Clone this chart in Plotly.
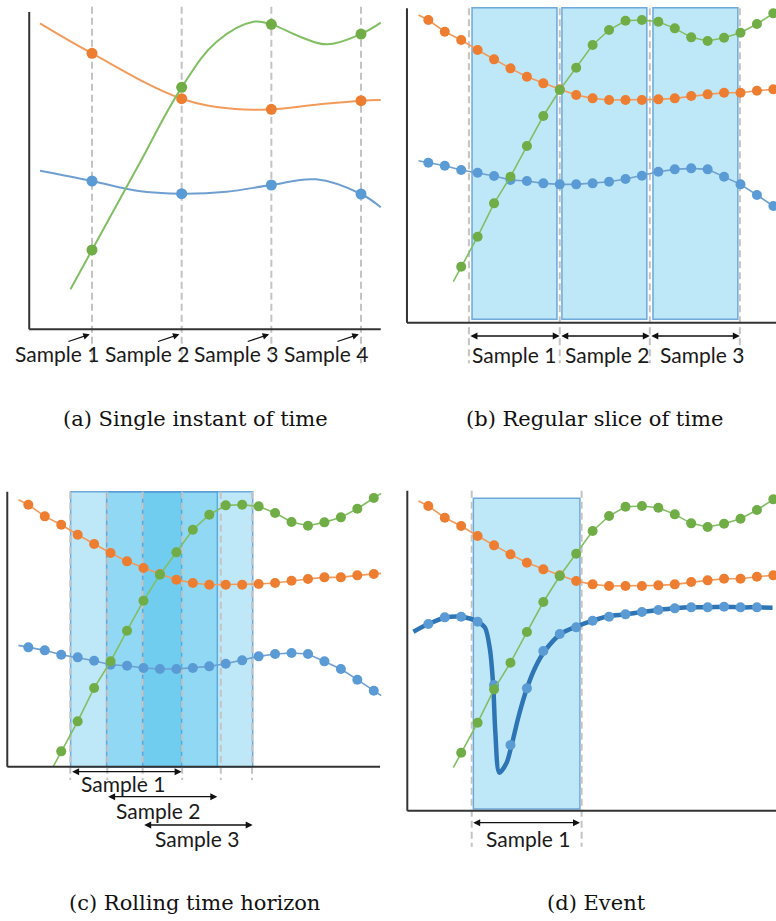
import plotly.graph_objects as go

W, H = 776, 921

# ---------------- data ----------------
# Panel (a): continuous signals, sampled at four instants
a_orange_t = [0.42, 1.0, 2.0, 2.6, 3.0, 3.5, 4.0, 4.22]
a_orange = [93.0, 84.0, 70.4, 67.3, 67.2, 68.6, 69.8, 70.0]
a_blue_t = [0.42, 1.0, 1.5, 2.0, 2.5, 3.0, 3.5, 4.0, 4.22]
a_blue = [48.8, 45.7, 42.8, 41.9, 42.5, 44.5, 46.2, 41.8, 37.8]
a_green_t = [0.76, 1.0, 1.5, 2.0, 2.39, 2.8, 3.0, 3.32, 3.62, 4.0, 4.22]
a_green = [13.2, 25.0, 49.5, 73.8, 87.5, 93.5, 92.7, 89.0, 86.7, 89.8, 93.2]
a_sample_t = [1, 2, 3, 4]
a_labels = ["Sample 1", "Sample 2", "Sample 3", "Sample 4"]

# Panels (b), (c), (d): regularly sampled signals
t_idx = list(range(22))
orange = [94.0, 90.5, 88.0, 85.0, 82.2, 79.5, 77.0, 75.0, 73.2, 71.5, 70.5,
          70.0, 70.0, 70.0, 70.2, 70.5, 71.2, 71.7, 72.2, 72.2, 72.8, 73.2]
green = [None, None, 20.0, 29.0, 39.0, 47.0, 56.2, 65.2, 73.0, 79.7, 86.5,
         91.0, 93.8, 94.0, 93.5, 91.5, 88.8, 87.7, 88.7, 90.2, 92.8, 96.0]
blue = [51.2, 50.3, 49.0, 48.2, 47.2, 46.0, 45.7, 45.0, 44.7, 44.7, 45.0,
        45.5, 46.3, 47.3, 48.5, 49.2, 49.5, 49.2, 47.0, 44.7, 41.5, 38.2]
# where the drawn lines begin / end beyond the first / last dot
orange_ends = [(-0.6, 95.5), (21.45, 73.4)]
green_ends = [(1.52, 15.5), (21.45, 97.4)]
blue_ends = [(-0.6, 51.8), (21.45, 36.7)]

# Panel (d): event signal (sharp dip)
d_blue_t = list(range(21))
d_blue = [58.6, 60.6, 60.8, 59.3, 40.3, 22.3, 39.3, 50.5, 55.6, 57.6, 59.6,
          60.8, 61.5, 62.2, 62.8, 63.3, 63.6, 63.6, 63.8, 63.6, 63.6]
d_curve_t = [-0.91, 0, 1, 2, 3, 3.45, 3.75, 3.95, 4.08, 4.32, 4.75, 5.07, 5.5,
             6.0, 6.5, 7.1, 8.1, 9.0, 10, 11, 12, 13, 14, 15, 16, 17, 18, 19,
             20, 20.95]
d_curve = [56.3, 58.6, 60.5, 60.8, 59.3, 57.5, 51.0, 40.0, 26.0, 14.0, 16.8,
           22.3, 31.0, 39.3, 45.5, 50.6, 55.8, 57.8, 59.6, 61.0, 61.5, 62.2,
           62.8, 63.3, 63.6, 63.6, 63.8, 63.6, 63.6, 63.5]

# sampling windows
b_bounds = [2.47, 8.0, 13.48, 18.96]
b_rects = [(2.66, 7.83), (8.13, 13.3), (13.67, 18.84)]
b_labels = ["Sample 1", "Sample 2", "Sample 3"]
b_label_t = [5.2, 10.85, 16.65]

c_rects = [(2.57, 9.32), (4.76, 11.49), (6.95, 13.64)]
c_dashes = [2.55, 4.8, 6.95, 9.35, 11.7, 13.6]
c_arrow_v = [13.9, 6.4, -2.1]
c_label_t = [5.78, 7.9, 10.23]
c_label_v = [10.4, 2.4, -6.1]
c_labels = ["Sample 1", "Sample 2", "Sample 3"]

d_rect = (2.74, 9.23)
d_bounds = [2.64, 9.33]

captions = ["(a) Single instant of time", "(b) Regular slice of time",
            "(c) Rolling time horizon", "(d) Event"]

# ---------------- styles ----------------
C_OR, C_GR, C_BL = "#ED7D31", "#70AD47", "#5B9BD5"
L_OR, L_GR, L_BL = "#F29B5B", "#82BF63", "#6F9FD0"
AXC = "#333333"
DASHC = "#C4C4C4"
FILL = "rgba(41,178,232,0.30)"
EDGE = "rgba(91,155,213,0.85)"
LABEL_FONT = dict(family="Lato", size=21, color="#1a1a1a")
CAP_FONT = dict(family="DejaVu Serif", size=21, color="#111111")

fig = go.Figure()
layout = {}
shapes = []
annos = []

# panel boxes (px) and linear mapping px = o + s*value
panels = {
    "a": dict(ax="", box=(0, 390, 0, 385), ox=2.33, sx=89.67, oy=333.33, sy=3.333),
    "b": dict(ax="2", box=(390, 776, 0, 385), ox=428.33, sx=16.43, oy=333.33, sy=3.333),
    "c": dict(ax="3", box=(0, 390, 470, 860), ox=28.33, sx=16.45, oy=818.0, sy=3.333),
    "d": dict(ax="4", box=(390, 776, 470, 860), ox=428.33, sx=16.43, oy=819.33, sy=3.333),
}
for k, p in panels.items():
    x0, x1, y0, y1 = p["box"]
    n = p["ax"]
    layout["xaxis" + n] = dict(domain=[x0 / W, x1 / W],
                               range=[(x0 - p["ox"]) / p["sx"], (x1 - p["ox"]) / p["sx"]],
                               visible=False, anchor="y" + n, fixedrange=True)
    layout["yaxis" + n] = dict(domain=[1 - y1 / H, 1 - y0 / H],
                               range=[(p["oy"] - y1) / p["sy"], (p["oy"] - y0) / p["sy"]],
                               visible=False, anchor="x" + n, fixedrange=True)


def refs(k):
    n = panels[k]["ax"]
    return "x" + n, "y" + n


def axes_lines(k, t_left, t_right, v_axis, v_top):
    xr, yr = refs(k)
    shapes.append(dict(type="line", xref=xr, yref=yr, x0=t_left, x1=t_left, y0=v_axis, y1=v_top,
                       line=dict(color=AXC, width=2)))
    shapes.append(dict(type="line", xref=xr, yref=yr, x0=t_left, x1=t_right, y0=v_axis, y1=v_axis,
                       line=dict(color=AXC, width=2)))


def dash(k, t, v0, v1):
    xr, yr = refs(k)
    shapes.append(dict(type="line", xref=xr, yref=yr, x0=t, x1=t, y0=v0, y1=v1, layer="below",
                       line=dict(color=DASHC, width=2, dash="7px,4px")))


def rect(k, t0, t1, v0, v1):
    xr, yr = refs(k)
    shapes.append(dict(type="rect", xref=xr, yref=yr, x0=t0, x1=t1, y0=v0, y1=v1, layer="below",
                       fillcolor=FILL, line=dict(color=EDGE, width=1.5)))


def harrow(k, t0, t1, v):
    xr, yr = refs(k)
    annos.append(dict(xref=xr, yref=yr, axref=xr, ayref=yr, x=t1, y=v, ax=t0, ay=v,
                      text="", showarrow=True, arrowhead=2, startarrowhead=2,
                      arrowside="end+start", arrowsize=1, startarrowsize=1,
                      arrowwidth=1.4, arrowcolor="#111111"))


def label(k, t, v, text):
    xr, yr = refs(k)
    annos.append(dict(xref=xr, yref=yr, x=t, y=v, text=text, showarrow=False,
                      font=LABEL_FONT, xanchor="center", yanchor="middle"))


# ---------------- panel (a) ----------------
xr, yr = refs("a")
for s in a_sample_t:
    dash("a", s, 98, -9)
for t_list, vals, lc, mc in [(a_blue_t, a_blue, L_BL, C_BL),
                             (a_orange_t, a_orange, L_OR, C_OR),
                             (a_green_t, a_green, L_GR, C_GR)]:
    fig.add_trace(go.Scatter(x=t_list, y=vals, mode="lines", xaxis=xr, yaxis=yr,
                             line=dict(color=lc, width=2, shape="spline", smoothing=1.1),
                             hoverinfo="skip", showlegend=False))
    mv = [vals[t_list.index(s)] for s in a_sample_t]
    fig.add_trace(go.Scatter(x=a_sample_t, y=mv, mode="markers", xaxis=xr, yaxis=yr,
                             marker=dict(color=mc, size=11, line=dict(width=0)),
                             hoverinfo="skip", showlegend=False))
axes_lines("a", 0.30, 4.22, 1.2, 96.4)
for s, txt in zip(a_sample_t, a_labels):
    annos.append(dict(xref=xr, yref=yr, axref=xr, ayref=yr, x=s - 0.025, y=-0.3,
                      ax=s - 0.28, ay=-2.6, text="", showarrow=True, arrowhead=2,
                      arrowsize=1, arrowwidth=1.3, arrowcolor="#111111"))
    label("a", s - 0.39, -6.0, txt)


# ---------------- dotted series helper ----------------
def dotted(k, with_blue=True):
    xr, yr = refs(k)
    series = []
    if with_blue:
        series.append((blue, blue_ends, L_BL, C_BL))
    series += [(orange, orange_ends, L_OR, C_OR), (green, green_ends, L_GR, C_GR)]
    for vals, ends, lc, mc in series:
        pts = [(t, v) for t, v in zip(t_idx, vals) if v is not None]
        lx = [ends[0][0]] + [p[0] for p in pts] + [ends[1][0]]
        ly = [ends[0][1]] + [p[1] for p in pts] + [ends[1][1]]
        fig.add_trace(go.Scatter(x=lx, y=ly, mode="lines", xaxis=xr, yaxis=yr,
                                 line=dict(color=lc, width=1.6),
                                 hoverinfo="skip", showlegend=False))
        fig.add_trace(go.Scatter(x=[p[0] for p in pts], y=[p[1] for p in pts],
                                 mode="markers", xaxis=xr, yaxis=yr,
                                 marker=dict(color=mc, size=10, line=dict(width=0)),
                                 hoverinfo="skip", showlegend=False))


# ---------------- panel (b) ----------------
for (t0, t1) in b_rects:
    rect("b", t0, t1, 4.2, 97.7)
for t in b_bounds:
    dash("b", t, 97.5, -9.0)
dotted("b")
axes_lines("b", -1.30, 21.3, 3.2, 97.5)
for i in range(3):
    harrow("b", b_bounds[i], b_bounds[i + 1], -0.8)
    label("b", b_label_t[i], -6.3, b_labels[i])

# ---------------- panel (c) ----------------
for (t0, t1) in c_rects:
    rect("c", t0, t1, 15.3, 97.9)
for t in c_dashes:
    dash("c", t, 97.9, 11.4)
dotted("c")
axes_lines("c", -1.28, 21.38, 15.4, 97.9)
for i, (t0, t1) in enumerate(c_rects):
    harrow("c", t0, t1, c_arrow_v[i])
    label("c", c_label_t[i], c_label_v[i], c_labels[i])

# ---------------- panel (d) ----------------
rect("d", d_rect[0], d_rect[1], 3.1, 96.3)
for t in d_bounds:
    dash("d", t, 98.6, -8.2)
xr, yr = refs("d")
fig.add_trace(go.Scatter(x=d_curve_t, y=d_curve, mode="lines", xaxis=xr, yaxis=yr,
                         line=dict(color="#2E75B6", width=4.5, shape="spline", smoothing=0.8),
                         hoverinfo="skip", showlegend=False))
fig.add_trace(go.Scatter(x=d_blue_t, y=d_blue, mode="markers", xaxis=xr, yaxis=yr,
                         marker=dict(color=C_BL, size=10, line=dict(width=0)),
                         hoverinfo="skip", showlegend=False))
dotted("d", with_blue=False)
axes_lines("d", -1.28, 21.3, 2.6, 98.6)
harrow("d", d_bounds[0], 9.23, -1.0)
label("d", 6.05, -5.7, "Sample 1")

# ---------------- captions ----------------
cap_pos = [(195, 419), (594, 419), (194, 903), (596, 903)]
for txt, (cx, cy) in zip(captions, cap_pos):
    annos.append(dict(xref="paper", yref="paper", x=cx / W, y=1 - cy / H, text=txt,
                      showarrow=False, font=CAP_FONT, xanchor="center", yanchor="middle"))

fig.update_layout(width=W, height=H, margin=dict(l=0, r=0, t=0, b=0),
                  paper_bgcolor="white", plot_bgcolor="rgba(0,0,0,0)",
                  showlegend=False, shapes=shapes, annotations=annos, **layout)
fig.write_html("out.html", config={"displayModeBar": False, "staticPlot": True},
               post_script="document.body.style.margin='0';document.body.style.overflow='hidden';")
